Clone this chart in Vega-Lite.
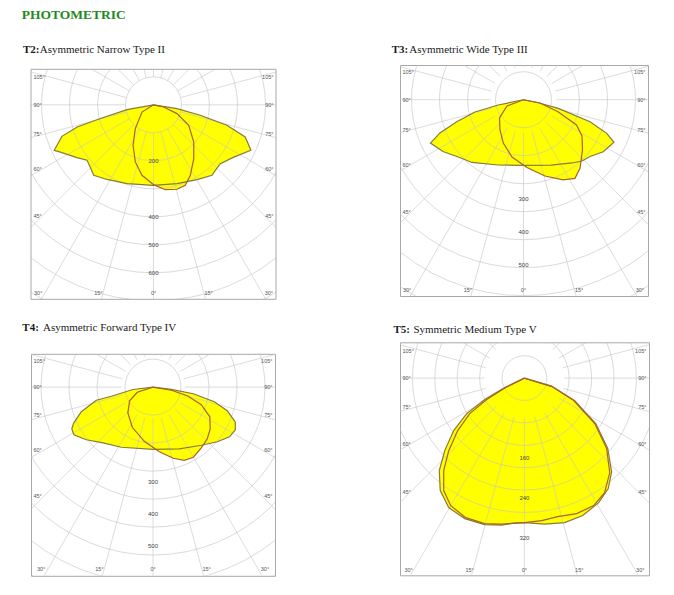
{
  "$schema": "https://vega.github.io/schema/vega-lite/v6.json",
  "background": "white",
  "padding": {"left": 21, "top": 7, "right": 4, "bottom": 4},
  "title": {"text": "PHOTOMETRIC", "anchor": "start", "font": "Liberation Serif", "fontSize": 13.5, "fontWeight": "bold", "color": "#1f8a24", "offset": 22.5},
  "config": {"view": {"stroke": "#a8a8a8", "strokeWidth": 1}, "axis": {"disable": true}, "legend": {"disable": true}},
  "datasets": {
    "side": [{"t": "105°", "a": 105}, {"t": "90°", "a": 90}, {"t": "75°", "a": 75}, {"t": "60°", "a": 60}, {"t": "45°", "a": 45}],
    "bottom": [{"t": "30°", "a": -30}, {"t": "15°", "a": -15}, {"t": "0°", "a": 0}, {"t": "15°", "a": 15}, {"t": "30°", "a": 30}],
    "spokes": [{"a": 0}, {"a": 15}, {"a": 30}, {"a": 45}, {"a": 60}, {"a": 75}, {"a": 90}, {"a": 105}, {"a": 120}, {"a": 135}, {"a": 150}, {"a": 165}, {"a": 180}, {"a": 195}, {"a": 210}, {"a": 225}, {"a": 240}, {"a": 255}, {"a": 270}, {"a": 285}, {"a": 300}, {"a": 315}, {"a": 330}, {"a": 345}],
    "one": [{"k": 1}],
    "t2": [
      {"c": "w", "i": 0, "a": 0, "cd": 0}, {"c": "w", "i": 1, "a": -79.7, "cd": 96}, {"c": "w", "i": 2, "a": -75.5, "cd": 196}, {"c": "w", "i": 3, "a": -73.8, "cd": 284}, {"c": "w", "i": 4, "a": -71, "cd": 346}, {"c": "w", "i": 5, "a": -65.4, "cd": 390}, {"c": "w", "i": 6, "a": -63.1, "cd": 373}, {"c": "w", "i": 7, "a": -55.4, "cd": 332}, {"c": "w", "i": 8, "a": -50.2, "cd": 309}, {"c": "w", "i": 9, "a": -45.5, "cd": 317}, {"c": "w", "i": 10, "a": -40.3, "cd": 330}, {"c": "w", "i": 11, "a": -31.9, "cd": 314}, {"c": "w", "i": 12, "a": -18.6, "cd": 297}, {"c": "w", "i": 13, "a": 0, "cd": 288}, {"c": "w", "i": 14, "a": 16.6, "cd": 294}, {"c": "w", "i": 15, "a": 30.2, "cd": 309}, {"c": "w", "i": 16, "a": 39.7, "cd": 327}, {"c": "w", "i": 17, "a": 43.3, "cd": 322}, {"c": "w", "i": 18, "a": 48.6, "cd": 318}, {"c": "w", "i": 19, "a": 56.9, "cd": 342}, {"c": "w", "i": 20, "a": 65, "cd": 384}, {"c": "w", "i": 21, "a": 70.7, "cd": 347}, {"c": "w", "i": 22, "a": 74.4, "cd": 272}, {"c": "w", "i": 23, "a": 77.4, "cd": 171}, {"c": "w", "i": 24, "a": 80.8, "cd": 85}, {"c": "w", "i": 25, "a": 0, "cd": 0},
      {"c": "n", "i": 0, "a": 0, "cd": 0}, {"c": "n", "i": 1, "a": -57.9, "cd": 48.5}, {"c": "n", "i": 2, "a": -37.4, "cd": 107}, {"c": "n", "i": 3, "a": -26.8, "cd": 162}, {"c": "n", "i": 4, "a": -17.65, "cd": 214}, {"c": "n", "i": 5, "a": -9.3, "cd": 255}, {"c": "n", "i": 6, "a": 0.1, "cd": 285}, {"c": "n", "i": 7, "a": 7.9, "cd": 306}, {"c": "n", "i": 8, "a": 15.5, "cd": 313}, {"c": "n", "i": 9, "a": 21.55, "cd": 309}, {"c": "n", "i": 10, "a": 27.6, "cd": 284}, {"c": "n", "i": 11, "a": 36.8, "cd": 240}, {"c": "n", "i": 12, "a": 47.2, "cd": 196}, {"c": "n", "i": 13, "a": 59.8, "cd": 145.5}, {"c": "n", "i": 14, "a": 69.5, "cd": 89.6}, {"c": "n", "i": 15, "a": 77.8, "cd": 37.3}, {"c": "n", "i": 16, "a": 0, "cd": 0}
    ],
    "t3": [
      {"c": "w", "i": 0, "a": 0, "cd": 0}, {"c": "w", "i": 1, "a": -78.1, "cd": 78}, {"c": "w", "i": 2, "a": -75.8, "cd": 151.6}, {"c": "w", "i": 3, "a": -71.8, "cd": 213}, {"c": "w", "i": 4, "a": -68.3, "cd": 272.4}, {"c": "w", "i": 5, "a": -65, "cd": 311}, {"c": "w", "i": 6, "a": -57.25, "cd": 290}, {"c": "w", "i": 7, "a": -48.7, "cd": 263}, {"c": "w", "i": 8, "a": -39.4, "cd": 246}, {"c": "w", "i": 9, "a": -21.1, "cd": 212}, {"c": "w", "i": 10, "a": 0, "cd": 199}, {"c": "w", "i": 11, "a": 22.8, "cd": 214.7}, {"c": "w", "i": 12, "a": 37.5, "cd": 241.6}, {"c": "w", "i": 13, "a": 43.7, "cd": 256.8}, {"c": "w", "i": 14, "a": 49.5, "cd": 265}, {"c": "w", "i": 15, "a": 56.9, "cd": 288.6}, {"c": "w", "i": 16, "a": 64.8, "cd": 303}, {"c": "w", "i": 17, "a": 68, "cd": 272}, {"c": "w", "i": 18, "a": 71.7, "cd": 212.2}, {"c": "w", "i": 19, "a": 76.1, "cd": 108.6}, {"c": "w", "i": 20, "a": 78.5, "cd": 45.8}, {"c": "w", "i": 21, "a": 0, "cd": 0},
      {"c": "n", "i": 0, "a": 0, "cd": 0}, {"c": "n", "i": 1, "a": -69.1, "cd": 53.5}, {"c": "n", "i": 2, "a": -52.7, "cd": 91.5}, {"c": "n", "i": 3, "a": -37.8, "cd": 116.2}, {"c": "n", "i": 4, "a": -25, "cd": 144.8}, {"c": "n", "i": 5, "a": -11.35, "cd": 177.1}, {"c": "n", "i": 6, "a": 2.95, "cd": 205.7}, {"c": "n", "i": 7, "a": 15.7, "cd": 240.2}, {"c": "n", "i": 8, "a": 26.25, "cd": 270.6}, {"c": "n", "i": 9, "a": 33.2, "cd": 284.8}, {"c": "n", "i": 10, "a": 39.5, "cd": 269.3}, {"c": "n", "i": 11, "a": 49.55, "cd": 234.9}, {"c": "n", "i": 12, "a": 58.2, "cd": 208.6}, {"c": "n", "i": 13, "a": 64.5, "cd": 178}, {"c": "n", "i": 14, "a": 70.8, "cd": 110.7}, {"c": "n", "i": 15, "a": 78.7, "cd": 51}, {"c": "n", "i": 16, "a": 0, "cd": 0}
    ],
    "t4": [
      {"c": "w", "i": 0, "a": 0, "cd": 0}, {"c": "w", "i": 1, "a": -83.2, "cd": 63.5}, {"c": "w", "i": 2, "a": -77.6, "cd": 134.7}, {"c": "w", "i": 3, "a": -76.9, "cd": 183.6}, {"c": "w", "i": 4, "a": -71, "cd": 239.2}, {"c": "w", "i": 5, "a": -65.7, "cd": 274.1}, {"c": "w", "i": 6, "a": -62.8, "cd": 288}, {"c": "w", "i": 7, "a": -58.9, "cd": 291.6}, {"c": "w", "i": 8, "a": -51.7, "cd": 268.2}, {"c": "w", "i": 9, "a": -41.9, "cd": 236.1}, {"c": "w", "i": 10, "a": -27.8, "cd": 214.6}, {"c": "w", "i": 11, "a": 0, "cd": 196.2}, {"c": "w", "i": 12, "a": 23.1, "cd": 211.6}, {"c": "w", "i": 13, "a": 39.7, "cd": 238.6}, {"c": "w", "i": 14, "a": 49.6, "cd": 266.3}, {"c": "w", "i": 15, "a": 57, "cd": 288}, {"c": "w", "i": 16, "a": 62.6, "cd": 292.5}, {"c": "w", "i": 17, "a": 67.1, "cd": 281.7}, {"c": "w", "i": 18, "a": 72.3, "cd": 246}, {"c": "w", "i": 19, "a": 76.5, "cd": 198.9}, {"c": "w", "i": 20, "a": 80.6, "cd": 128.9}, {"c": "w", "i": 21, "a": 83.1, "cd": 58.1}, {"c": "w", "i": 22, "a": 0, "cd": 0},
      {"c": "n", "i": 0, "a": 0, "cd": 0}, {"c": "n", "i": 1, "a": -71.7, "cd": 52.2}, {"c": "n", "i": 2, "a": -59.65, "cd": 85.5}, {"c": "n", "i": 3, "a": -44.4, "cd": 113.5}, {"c": "n", "i": 4, "a": -27.25, "cd": 142.6}, {"c": "n", "i": 5, "a": -9.1, "cd": 173.2}, {"c": "n", "i": 6, "a": 5.6, "cd": 205}, {"c": "n", "i": 7, "a": 15.9, "cd": 233.5}, {"c": "n", "i": 8, "a": 23.15, "cd": 251.1}, {"c": "n", "i": 9, "a": 29.9, "cd": 255.3}, {"c": "n", "i": 10, "a": 38.5, "cd": 244.7}, {"c": "n", "i": 11, "a": 46.4, "cd": 236.5}, {"c": "n", "i": 12, "a": 53.95, "cd": 223.5}, {"c": "n", "i": 13, "a": 62.4, "cd": 202.2}, {"c": "n", "i": 14, "a": 69.9, "cd": 162.3}, {"c": "n", "i": 15, "a": 75.8, "cd": 111.6}, {"c": "n", "i": 16, "a": 80.1, "cd": 58.6}, {"c": "n", "i": 17, "a": 0, "cd": 0}
    ],
    "t5": [
      {"c": "w", "i": 0, "a": 0, "cd": 0}, {"c": "w", "i": 1, "a": -64.25, "cd": 43.7}, {"c": "w", "i": 2, "a": -61.6, "cd": 90.3}, {"c": "w", "i": 3, "a": -58.4, "cd": 135.5}, {"c": "w", "i": 4, "a": -53.4, "cd": 176.1}, {"c": "w", "i": 5, "a": -47.7, "cd": 215.4}, {"c": "w", "i": 6, "a": -42.6, "cd": 251.5}, {"c": "w", "i": 7, "a": -36.8, "cd": 281}, {"c": "w", "i": 8, "a": -30.3, "cd": 300}, {"c": "w", "i": 9, "a": -23, "cd": 305.3}, {"c": "w", "i": 10, "a": -15.2, "cd": 303.6}, {"c": "w", "i": 11, "a": -8.8, "cd": 297.5}, {"c": "w", "i": 12, "a": -4.2, "cd": 290.8}, {"c": "w", "i": 13, "a": 0.1, "cd": 289}, {"c": "w", "i": 14, "a": 7.9, "cd": 294.8}, {"c": "w", "i": 15, "a": 15.6, "cd": 300}, {"c": "w", "i": 16, "a": 23, "cd": 298.7}, {"c": "w", "i": 17, "a": 30.8, "cd": 290}, {"c": "w", "i": 18, "a": 37.2, "cd": 277.4}, {"c": "w", "i": 19, "a": 43, "cd": 255.8}, {"c": "w", "i": 20, "a": 49.8, "cd": 218.2}, {"c": "w", "i": 21, "a": 57.5, "cd": 169.2}, {"c": "w", "i": 22, "a": 65.9, "cd": 110.2}, {"c": "w", "i": 23, "a": 73.7, "cd": 56.9}, {"c": "w", "i": 24, "a": 0, "cd": 0},
      {"c": "n", "i": 0, "a": 0, "cd": 0}, {"c": "n", "i": 1, "a": -63.1, "cd": 41.9}, {"c": "n", "i": 2, "a": -60.3, "cd": 86.8}, {"c": "n", "i": 3, "a": -57, "cd": 130.4}, {"c": "n", "i": 4, "a": -51.8, "cd": 169.8}, {"c": "n", "i": 5, "a": -46.2, "cd": 209.6}, {"c": "n", "i": 6, "a": -41.1, "cd": 245.5}, {"c": "n", "i": 7, "a": -35.65, "cd": 276.9}, {"c": "n", "i": 8, "a": -30, "cd": 294.6}, {"c": "n", "i": 9, "a": -22.8, "cd": 302.7}, {"c": "n", "i": 10, "a": -15.3, "cd": 301.6}, {"c": "n", "i": 11, "a": -8.8, "cd": 295.5}, {"c": "n", "i": 12, "a": 0.1, "cd": 289}, {"c": "n", "i": 13, "a": 6.9, "cd": 287.1}, {"c": "n", "i": 14, "a": 13.5, "cd": 284.9}, {"c": "n", "i": 15, "a": 21.1, "cd": 290.5}, {"c": "n", "i": 16, "a": 28.5, "cd": 290.2}, {"c": "n", "i": 17, "a": 35, "cd": 279.7}, {"c": "n", "i": 18, "a": 42.1, "cd": 254.6}, {"c": "n", "i": 19, "a": 49.4, "cd": 216.7}, {"c": "n", "i": 20, "a": 57.1, "cd": 167.5}, {"c": "n", "i": 21, "a": 65.5, "cd": 108.4}, {"c": "n", "i": 22, "a": 72.7, "cd": 57.2}, {"c": "n", "i": 23, "a": 0, "cd": 0}
    ]
  },
  "align": "none",
  "spacing": 114,
  "hconcat": [
    {
      "align": "none",
      "spacing": 20.8,
      "vconcat": [
        {
          "width": 245, "height": 234.3,
          "view": {"stroke": null},
          "layer": [
            {"data": {"name": "t2"}, "transform": [{"calculate": "datum.cd*sin(datum.a*PI/180)", "as": "x"}, {"calculate": "datum.cd*cos(datum.a*PI/180)", "as": "y"}],
             "mark": {"type": "line", "fill": "#ffff00", "strokeOpacity": 0},
             "encoding": {"x": {"field": "x", "type": "quantitative", "scale": {"domain": [-437.5, 437.5], "nice": false, "zero": false}}, "y": {"field": "y", "type": "quantitative", "scale": {"domain": [-142.2, 694.6], "nice": false, "zero": false, "reverse": true}}, "detail": {"field": "c"}, "order": {"field": "i", "type": "quantitative"}}},
            {"data": {"values": [{"r": 100}, {"r": 200}, {"r": 300}, {"r": 400}, {"r": 500}, {"r": 600}, {"r": 700}, {"r": 800}, {"r": 900}]},
             "transform": [{"calculate": "0", "as": "x"}, {"calculate": "0", "as": "y"}],
             "mark": {"type": "point", "shape": "circle", "filled": false, "stroke": "#c4c4c4", "strokeWidth": 1, "opacity": 0.6, "clip": true},
             "encoding": {"x": {"field": "x", "type": "quantitative"}, "y": {"field": "y", "type": "quantitative"}, "size": {"field": "r", "type": "quantitative", "scale": {"type": "pow", "exponent": 2, "domain": [0, 1000], "range": [0, 313600]}}}},
            {"data": {"name": "spokes"}, "transform": [{"calculate": "100*sin(datum.a*PI/180)", "as": "x"}, {"calculate": "100*cos(datum.a*PI/180)", "as": "y"}, {"calculate": "3000*sin(datum.a*PI/180)", "as": "x2"}, {"calculate": "3000*cos(datum.a*PI/180)", "as": "y2"}],
             "mark": {"type": "rule", "stroke": "#c4c4c4", "strokeWidth": 1, "opacity": 0.6, "clip": true},
             "encoding": {"x": {"field": "x", "type": "quantitative"}, "y": {"field": "y", "type": "quantitative"}, "x2": {"field": "x2"}, "y2": {"field": "y2"}}},
            {"data": {"name": "one"}, "transform": [{"calculate": "-500", "as": "x"}, {"calculate": "500", "as": "x2"}, {"calculate": "-160", "as": "y"}, {"calculate": "-126.8", "as": "y2"}],
             "mark": {"type": "rect", "fill": "white", "clip": true},
             "encoding": {"x": {"field": "x", "type": "quantitative"}, "x2": {"field": "x2"}, "y": {"field": "y", "type": "quantitative"}, "y2": {"field": "y2"}}},
            {"data": {"name": "one"}, "transform": [{"calculate": "-437.5", "as": "x"}, {"calculate": "437.5", "as": "x2"}, {"calculate": "-126.8", "as": "y"}, {"calculate": "694.6", "as": "y2"}],
             "mark": {"type": "rect", "fill": null, "fillOpacity": 0, "stroke": "#a8a8a8", "strokeWidth": 1},
             "encoding": {"x": {"field": "x", "type": "quantitative"}, "x2": {"field": "x2"}, "y": {"field": "y", "type": "quantitative"}, "y2": {"field": "y2"}}},
            {"data": {"name": "t2"}, "transform": [{"calculate": "datum.cd*sin(datum.a*PI/180)", "as": "x"}, {"calculate": "datum.cd*cos(datum.a*PI/180)", "as": "y"}],
             "mark": {"type": "line", "strokeWidth": 1.2},
             "encoding": {"x": {"field": "x", "type": "quantitative"}, "y": {"field": "y", "type": "quantitative"}, "color": {"field": "c", "type": "nominal", "scale": {"domain": ["w", "n"], "range": ["#857b3b", "#a8622e"]}}, "order": {"field": "i", "type": "quantitative"}}},
            {"data": {"values": [{"r": 200}, {"r": 400}, {"r": 500}, {"r": 600}]},
             "transform": [{"calculate": "0", "as": "x"}],
             "mark": {"type": "text", "font": "Liberation Sans", "fontSize": 6, "color": "#444", "align": "center", "baseline": "middle"},
             "encoding": {"x": {"field": "x", "type": "quantitative"}, "y": {"field": "r", "type": "quantitative"}, "text": {"field": "r", "type": "quantitative"}}},
            {"data": {"name": "side"}, "transform": [{"calculate": "-437.5", "as": "x"}, {"calculate": "(437.5 - (datum.a==105?20:datum.a==75?13:11)/0.28)*cos(datum.a*PI/180)/sin(datum.a*PI/180)", "as": "y"}],
             "mark": {"type": "text", "font": "Liberation Sans", "fontSize": 5.5, "color": "#555", "align": "left", "dx": 2.5, "baseline": "middle"},
             "encoding": {"x": {"field": "x", "type": "quantitative"}, "y": {"field": "y", "type": "quantitative"}, "text": {"field": "t"}}},
            {"data": {"name": "side"}, "transform": [{"calculate": "437.5", "as": "x"}, {"calculate": "(437.5 - (datum.a==105?20:datum.a==75?13:11)/0.28)*cos(datum.a*PI/180)/sin(datum.a*PI/180)", "as": "y"}],
             "mark": {"type": "text", "font": "Liberation Sans", "fontSize": 5.5, "color": "#555", "align": "right", "dx": -2.5, "baseline": "middle"},
             "encoding": {"x": {"field": "x", "type": "quantitative"}, "y": {"field": "y", "type": "quantitative"}, "text": {"field": "t"}}},
            {"data": {"name": "bottom"}, "transform": [{"calculate": "694.6*tan(datum.a*PI/180) + (datum.a<0?-1:datum.a>0?1:0)*3/0.28", "as": "x"}, {"calculate": "671.4", "as": "y"}],
             "mark": {"type": "text", "font": "Liberation Sans", "fontSize": 5.5, "color": "#555", "align": "center", "baseline": "middle"},
             "encoding": {"x": {"field": "x", "type": "quantitative"}, "y": {"field": "y", "type": "quantitative"}, "text": {"field": "t"}}},
            {"data": {"name": "one"}, "transform": [{"calculate": "-437.5", "as": "x"}, {"calculate": "-126.8", "as": "y"}],
             "mark": {"type": "text", "text": "T2:", "font": "Liberation Serif", "fontSize": 11, "fontWeight": "bold", "color": "#1a1a1a", "align": "left", "baseline": "alphabetic", "dx": -8, "dy": -16},
             "encoding": {"x": {"field": "x", "type": "quantitative"}, "y": {"field": "y", "type": "quantitative"}}},
            {"data": {"name": "one"}, "transform": [{"calculate": "-437.5", "as": "x"}, {"calculate": "-126.8", "as": "y"}],
             "mark": {"type": "text", "text": "Asymmetric Narrow Type II", "font": "Liberation Serif", "fontSize": 11, "color": "#1a1a1a", "align": "left", "baseline": "alphabetic", "dx": 8.7, "dy": -16},
             "encoding": {"x": {"field": "x", "type": "quantitative"}, "y": {"field": "y", "type": "quantitative"}}}
          ]
        },
        {
          "width": 244, "height": 222,
          "layer": [
            {"data": {"name": "t4"}, "transform": [{"calculate": "datum.cd*sin(datum.a*PI/180)", "as": "x"}, {"calculate": "datum.cd*cos(datum.a*PI/180)", "as": "y"}],
             "mark": {"type": "line", "fill": "#ffff00", "strokeOpacity": 0},
             "encoding": {"x": {"field": "x", "type": "quantitative", "scale": {"domain": [-384.9, 384.9], "nice": false, "zero": false}}, "y": {"field": "y", "type": "quantitative", "scale": {"domain": [-105, 595.3], "nice": false, "zero": false, "reverse": true}}, "detail": {"field": "c"}, "order": {"field": "i", "type": "quantitative"}}},
            {"data": {"values": [{"r": 100}, {"r": 200}, {"r": 300}, {"r": 400}, {"r": 500}, {"r": 600}, {"r": 700}, {"r": 800}]},
             "transform": [{"calculate": "0", "as": "x"}, {"calculate": "0", "as": "y"}],
             "mark": {"type": "point", "shape": "circle", "filled": false, "stroke": "#c4c4c4", "strokeWidth": 1, "opacity": 0.6, "clip": true},
             "encoding": {"x": {"field": "x", "type": "quantitative"}, "y": {"field": "y", "type": "quantitative"}, "size": {"field": "r", "type": "quantitative", "scale": {"type": "pow", "exponent": 2, "domain": [0, 1000], "range": [0, 401956]}}}},
            {"data": {"name": "spokes"}, "transform": [{"calculate": "100*sin(datum.a*PI/180)", "as": "x"}, {"calculate": "100*cos(datum.a*PI/180)", "as": "y"}, {"calculate": "3000*sin(datum.a*PI/180)", "as": "x2"}, {"calculate": "3000*cos(datum.a*PI/180)", "as": "y2"}],
             "mark": {"type": "rule", "stroke": "#c4c4c4", "strokeWidth": 1, "opacity": 0.6, "clip": true},
             "encoding": {"x": {"field": "x", "type": "quantitative"}, "y": {"field": "y", "type": "quantitative"}, "x2": {"field": "x2"}, "y2": {"field": "y2"}}},
            {"data": {"name": "t4"}, "transform": [{"calculate": "datum.cd*sin(datum.a*PI/180)", "as": "x"}, {"calculate": "datum.cd*cos(datum.a*PI/180)", "as": "y"}],
             "mark": {"type": "line", "strokeWidth": 1.2},
             "encoding": {"x": {"field": "x", "type": "quantitative"}, "y": {"field": "y", "type": "quantitative"}, "color": {"field": "c", "type": "nominal", "scale": {"domain": ["w", "n"], "range": ["#857b3b", "#a8622e"]}}, "order": {"field": "i", "type": "quantitative"}}},
            {"data": {"values": [{"r": 300}, {"r": 400}, {"r": 500}]},
             "transform": [{"calculate": "0", "as": "x"}],
             "mark": {"type": "text", "font": "Liberation Sans", "fontSize": 6, "color": "#444", "align": "center", "baseline": "middle"},
             "encoding": {"x": {"field": "x", "type": "quantitative"}, "y": {"field": "r", "type": "quantitative"}, "text": {"field": "r", "type": "quantitative"}}},
            {"data": {"name": "side"}, "transform": [{"calculate": "-384.9", "as": "x"}, {"calculate": "(384.9 - (datum.a==105?26:datum.a==75?18:13.5)/0.317)*cos(datum.a*PI/180)/sin(datum.a*PI/180)", "as": "y"}],
             "mark": {"type": "text", "font": "Liberation Sans", "fontSize": 5.5, "color": "#555", "align": "left", "dx": 2.5, "baseline": "middle"},
             "encoding": {"x": {"field": "x", "type": "quantitative"}, "y": {"field": "y", "type": "quantitative"}, "text": {"field": "t"}}},
            {"data": {"name": "side"}, "transform": [{"calculate": "384.9", "as": "x"}, {"calculate": "(384.9 - (datum.a==105?26:datum.a==75?18:13.5)/0.317)*cos(datum.a*PI/180)/sin(datum.a*PI/180)", "as": "y"}],
             "mark": {"type": "text", "font": "Liberation Sans", "fontSize": 5.5, "color": "#555", "align": "right", "dx": -2.5, "baseline": "middle"},
             "encoding": {"x": {"field": "x", "type": "quantitative"}, "y": {"field": "y", "type": "quantitative"}, "text": {"field": "t"}}},
            {"data": {"name": "bottom"}, "transform": [{"calculate": "595.3*tan(datum.a*PI/180) + (datum.a<0?-1:datum.a>0?1:0)*3/0.317", "as": "x"}, {"calculate": "572.3", "as": "y"}],
             "mark": {"type": "text", "font": "Liberation Sans", "fontSize": 5.5, "color": "#555", "align": "center", "baseline": "middle"},
             "encoding": {"x": {"field": "x", "type": "quantitative"}, "y": {"field": "y", "type": "quantitative"}, "text": {"field": "t"}}},
            {"data": {"name": "one"}, "transform": [{"calculate": "-384.9", "as": "x"}, {"calculate": "-105", "as": "y"}],
             "mark": {"type": "text", "text": "T4:", "font": "Liberation Serif", "fontSize": 11, "fontWeight": "bold", "color": "#1a1a1a", "align": "left", "baseline": "alphabetic", "dx": -8.7, "dy": -22.7},
             "encoding": {"x": {"field": "x", "type": "quantitative"}, "y": {"field": "y", "type": "quantitative"}}},
            {"data": {"name": "one"}, "transform": [{"calculate": "-384.9", "as": "x"}, {"calculate": "-105", "as": "y"}],
             "mark": {"type": "text", "text": "Asymmetric Forward Type IV", "font": "Liberation Serif", "fontSize": 11, "color": "#1a1a1a", "align": "left", "baseline": "alphabetic", "dx": 12, "dy": -22.7},
             "encoding": {"x": {"field": "x", "type": "quantitative"}, "y": {"field": "y", "type": "quantitative"}}}
          ]
        }
      ]
    },
    {
      "align": "none",
      "spacing": 26.3,
      "vconcat": [
        {
          "width": 248, "height": 231,
          "layer": [
            {"data": {"name": "t3"}, "transform": [{"calculate": "datum.cd*sin(datum.a*PI/180)", "as": "x"}, {"calculate": "datum.cd*cos(datum.a*PI/180)", "as": "y"}],
             "mark": {"type": "line", "fill": "#ffff00", "strokeOpacity": 0},
             "encoding": {"x": {"field": "x", "type": "quantitative", "scale": {"domain": [-374.2, 377.3], "nice": false, "zero": false}}, "y": {"field": "y", "type": "quantitative", "scale": {"domain": [-105.2, 594.8], "nice": false, "zero": false, "reverse": true}}, "detail": {"field": "c"}, "order": {"field": "i", "type": "quantitative"}}},
            {"data": {"values": [{"r": 100}, {"r": 200}, {"r": 300}, {"r": 400}, {"r": 500}, {"r": 600}, {"r": 700}, {"r": 800}]},
             "transform": [{"calculate": "0", "as": "x"}, {"calculate": "0", "as": "y"}],
             "mark": {"type": "point", "shape": "circle", "filled": false, "stroke": "#c4c4c4", "strokeWidth": 1, "opacity": 0.6, "clip": true},
             "encoding": {"x": {"field": "x", "type": "quantitative"}, "y": {"field": "y", "type": "quantitative"}, "size": {"field": "r", "type": "quantitative", "scale": {"type": "pow", "exponent": 2, "domain": [0, 1000], "range": [0, 435600]}}}},
            {"data": {"name": "spokes"}, "transform": [{"calculate": "100*sin(datum.a*PI/180)", "as": "x"}, {"calculate": "100*cos(datum.a*PI/180)", "as": "y"}, {"calculate": "3000*sin(datum.a*PI/180)", "as": "x2"}, {"calculate": "3000*cos(datum.a*PI/180)", "as": "y2"}],
             "mark": {"type": "rule", "stroke": "#c4c4c4", "strokeWidth": 1, "opacity": 0.6, "clip": true},
             "encoding": {"x": {"field": "x", "type": "quantitative"}, "y": {"field": "y", "type": "quantitative"}, "x2": {"field": "x2"}, "y2": {"field": "y2"}}},
            {"data": {"name": "t3"}, "transform": [{"calculate": "datum.cd*sin(datum.a*PI/180)", "as": "x"}, {"calculate": "datum.cd*cos(datum.a*PI/180)", "as": "y"}],
             "mark": {"type": "line", "strokeWidth": 1.2},
             "encoding": {"x": {"field": "x", "type": "quantitative"}, "y": {"field": "y", "type": "quantitative"}, "color": {"field": "c", "type": "nominal", "scale": {"domain": ["w", "n"], "range": ["#857b3b", "#a8622e"]}}, "order": {"field": "i", "type": "quantitative"}}},
            {"data": {"values": [{"r": 300}, {"r": 400}, {"r": 500}]},
             "transform": [{"calculate": "0", "as": "x"}],
             "mark": {"type": "text", "font": "Liberation Sans", "fontSize": 6, "color": "#444", "align": "center", "baseline": "middle"},
             "encoding": {"x": {"field": "x", "type": "quantitative"}, "y": {"field": "r", "type": "quantitative"}, "text": {"field": "r", "type": "quantitative"}}},
            {"data": {"name": "side"}, "transform": [{"calculate": "-374.2", "as": "x"}, {"calculate": "(374.2 - (datum.a==105?20:11)/0.33)*cos(datum.a*PI/180)/sin(datum.a*PI/180)", "as": "y"}],
             "mark": {"type": "text", "font": "Liberation Sans", "fontSize": 5.5, "color": "#555", "align": "left", "dx": 2.5, "baseline": "middle"},
             "encoding": {"x": {"field": "x", "type": "quantitative"}, "y": {"field": "y", "type": "quantitative"}, "text": {"field": "t"}}},
            {"data": {"name": "side"}, "transform": [{"calculate": "377.3", "as": "x"}, {"calculate": "(374.2 - (datum.a==105?20:11)/0.33)*cos(datum.a*PI/180)/sin(datum.a*PI/180)", "as": "y"}],
             "mark": {"type": "text", "font": "Liberation Sans", "fontSize": 5.5, "color": "#555", "align": "right", "dx": -2.5, "baseline": "middle"},
             "encoding": {"x": {"field": "x", "type": "quantitative"}, "y": {"field": "y", "type": "quantitative"}, "text": {"field": "t"}}},
            {"data": {"name": "bottom"}, "transform": [{"calculate": "594.8*tan(datum.a*PI/180) + (datum.a<0?-1:datum.a>0?1:0)*3/0.33", "as": "x"}, {"calculate": "577.5", "as": "y"}],
             "mark": {"type": "text", "font": "Liberation Sans", "fontSize": 5.5, "color": "#555", "align": "center", "baseline": "middle"},
             "encoding": {"x": {"field": "x", "type": "quantitative"}, "y": {"field": "y", "type": "quantitative"}, "text": {"field": "t"}}},
            {"data": {"name": "one"}, "transform": [{"calculate": "-374.2", "as": "x"}, {"calculate": "-105.2", "as": "y"}],
             "mark": {"type": "text", "text": "T3:", "font": "Liberation Serif", "fontSize": 11, "fontWeight": "bold", "color": "#1a1a1a", "align": "left", "baseline": "alphabetic", "dx": -8.3, "dy": -11.7},
             "encoding": {"x": {"field": "x", "type": "quantitative"}, "y": {"field": "y", "type": "quantitative"}}},
            {"data": {"name": "one"}, "transform": [{"calculate": "-374.2", "as": "x"}, {"calculate": "-105.2", "as": "y"}],
             "mark": {"type": "text", "text": "Asymmetric Wide Type III", "font": "Liberation Serif", "fontSize": 11, "color": "#1a1a1a", "align": "left", "baseline": "alphabetic", "dx": 9.3, "dy": -11.7},
             "encoding": {"x": {"field": "x", "type": "quantitative"}, "y": {"field": "y", "type": "quantitative"}}}
          ]
        },
        {
          "width": 249, "height": 233,
          "layer": [
            {"data": {"name": "t5"}, "transform": [{"calculate": "datum.cd*sin(datum.a*PI/180)", "as": "x"}, {"calculate": "datum.cd*cos(datum.a*PI/180)", "as": "y"}],
             "mark": {"type": "line", "fill": "#ffff00", "strokeOpacity": 0},
             "encoding": {"x": {"field": "x", "type": "quantitative", "scale": {"domain": [-248.8, 249.2], "nice": false, "zero": false}}, "y": {"field": "y", "type": "quantitative", "scale": {"domain": [-71.6, 394.4], "nice": false, "zero": false, "reverse": true}}, "detail": {"field": "c"}, "order": {"field": "i", "type": "quantitative"}}},
            {"data": {"values": [{"r": 80}, {"r": 160}, {"r": 240}, {"r": 320}, {"r": 400}, {"r": 480}]},
             "transform": [{"calculate": "0", "as": "x"}, {"calculate": "0", "as": "y"}],
             "mark": {"type": "point", "shape": "circle", "filled": false, "stroke": "#c4c4c4", "strokeWidth": 1, "opacity": 0.6, "clip": true},
             "encoding": {"x": {"field": "x", "type": "quantitative"}, "y": {"field": "y", "type": "quantitative"}, "size": {"field": "r", "type": "quantitative", "scale": {"type": "pow", "exponent": 2, "domain": [0, 1000], "range": [0, 1000000]}}}},
            {"data": {"name": "spokes"}, "transform": [{"calculate": "80*sin(datum.a*PI/180)", "as": "x"}, {"calculate": "80*cos(datum.a*PI/180)", "as": "y"}, {"calculate": "3000*sin(datum.a*PI/180)", "as": "x2"}, {"calculate": "3000*cos(datum.a*PI/180)", "as": "y2"}],
             "mark": {"type": "rule", "stroke": "#c4c4c4", "strokeWidth": 1, "opacity": 0.6, "clip": true},
             "encoding": {"x": {"field": "x", "type": "quantitative"}, "y": {"field": "y", "type": "quantitative"}, "x2": {"field": "x2"}, "y2": {"field": "y2"}}},
            {"data": {"name": "t5"}, "transform": [{"calculate": "datum.cd*sin(datum.a*PI/180)", "as": "x"}, {"calculate": "datum.cd*cos(datum.a*PI/180)", "as": "y"}],
             "mark": {"type": "line", "strokeWidth": 1.2},
             "encoding": {"x": {"field": "x", "type": "quantitative"}, "y": {"field": "y", "type": "quantitative"}, "color": {"field": "c", "type": "nominal", "scale": {"domain": ["w", "n"], "range": ["#857b3b", "#a8622e"]}}, "order": {"field": "i", "type": "quantitative"}}},
            {"data": {"values": [{"r": 160}, {"r": 240}, {"r": 320}]},
             "transform": [{"calculate": "0", "as": "x"}],
             "mark": {"type": "text", "font": "Liberation Sans", "fontSize": 6, "color": "#444", "align": "center", "baseline": "middle"},
             "encoding": {"x": {"field": "x", "type": "quantitative"}, "y": {"field": "r", "type": "quantitative"}, "text": {"field": "r", "type": "quantitative"}}},
            {"data": {"name": "side"}, "transform": [{"calculate": "-248.8", "as": "x"}, {"calculate": "(248.8 - (datum.a==105?25:datum.a==75?15:11)/0.5)*cos(datum.a*PI/180)/sin(datum.a*PI/180)", "as": "y"}],
             "mark": {"type": "text", "font": "Liberation Sans", "fontSize": 5.5, "color": "#555", "align": "left", "dx": 2.5, "baseline": "middle"},
             "encoding": {"x": {"field": "x", "type": "quantitative"}, "y": {"field": "y", "type": "quantitative"}, "text": {"field": "t"}}},
            {"data": {"name": "side"}, "transform": [{"calculate": "249.2", "as": "x"}, {"calculate": "(248.8 - (datum.a==105?25:datum.a==75?15:11)/0.5)*cos(datum.a*PI/180)/sin(datum.a*PI/180)", "as": "y"}],
             "mark": {"type": "text", "font": "Liberation Sans", "fontSize": 5.5, "color": "#555", "align": "right", "dx": -2.5, "baseline": "middle"},
             "encoding": {"x": {"field": "x", "type": "quantitative"}, "y": {"field": "y", "type": "quantitative"}, "text": {"field": "t"}}},
            {"data": {"name": "bottom"}, "transform": [{"calculate": "394.4*tan(datum.a*PI/180) + (datum.a<0?-1:datum.a>0?1:0)*2/0.5", "as": "x"}, {"calculate": "383.4", "as": "y"}],
             "mark": {"type": "text", "font": "Liberation Sans", "fontSize": 5.5, "color": "#555", "align": "center", "baseline": "middle"},
             "encoding": {"x": {"field": "x", "type": "quantitative"}, "y": {"field": "y", "type": "quantitative"}, "text": {"field": "t"}}},
            {"data": {"name": "one"}, "transform": [{"calculate": "-248.8", "as": "x"}, {"calculate": "-71.6", "as": "y"}],
             "mark": {"type": "text", "text": "T5:", "font": "Liberation Serif", "fontSize": 11, "fontWeight": "bold", "color": "#1a1a1a", "align": "left", "baseline": "alphabetic", "dx": -6.6, "dy": -9.4},
             "encoding": {"x": {"field": "x", "type": "quantitative"}, "y": {"field": "y", "type": "quantitative"}}},
            {"data": {"name": "one"}, "transform": [{"calculate": "-248.8", "as": "x"}, {"calculate": "-71.6", "as": "y"}],
             "mark": {"type": "text", "text": "Symmetric Medium Type V", "font": "Liberation Serif", "fontSize": 11, "color": "#1a1a1a", "align": "left", "baseline": "alphabetic", "dx": 13.4, "dy": -9.4},
             "encoding": {"x": {"field": "x", "type": "quantitative"}, "y": {"field": "y", "type": "quantitative"}}}
          ]
        }
      ]
    }
  ]
}
